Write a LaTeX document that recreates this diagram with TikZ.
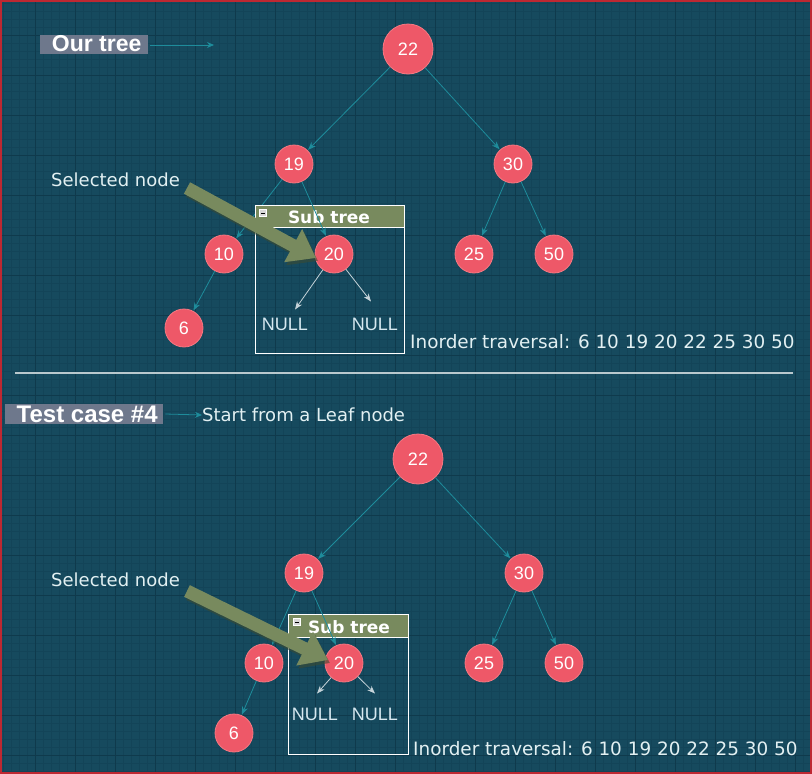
\documentclass[tikz,border=0pt]{standalone}
\usepackage{fontspec}
\setmainfont{DejaVu Sans}
\newfontfamily\arialf{Liberation Sans}
\usetikzlibrary{arrows.meta,calc}
\definecolor{bg}{RGB}{22,74,94}
\definecolor{majorg}{RGB}{15,58,76}
\definecolor{minorg}{RGB}{19,68,88}
\definecolor{nodered}{RGB}{238,88,104}
\definecolor{nodeedge}{RGB}{246,120,130}
\definecolor{teal}{RGB}{30,140,155}
\definecolor{olivegr}{RGB}{120,138,94}
\definecolor{olivedk}{RGB}{60,75,50}
\definecolor{lbl}{RGB}{110,120,140}
\definecolor{txt}{RGB}{226,240,242}
\definecolor{nulltxt}{RGB}{214,232,240}
\definecolor{sep}{RGB}{185,200,205}
\definecolor{borderred}{RGB}{190,40,50}
\tikzset{
  circ/.style={circle, fill=nodered, draw=nodeedge, line width=0.8pt, minimum size=38pt, inner sep=0pt, text=white, font=\arialf\fontsize{18}{20}\selectfont},
  bigcirc/.style={circ, minimum size=50pt},
  edge/.style={draw=teal, line width=0.8pt, -{Stealth[length=8pt,width=6pt]}, shorten >=0.5pt},
  nulledge/.style={draw=nulltxt!80!gray, line width=0.8pt, -{Stealth[length=8pt,width=6pt]}},
  nulltext/.style={text=nulltxt, inner sep=0pt, font=\arialf\fontsize{18}{20}\selectfont},
  plain/.style={text=txt, inner sep=0pt, anchor=west, font=\fontsize{18}{21}\selectfont},
  inorder/.style={plain, font=\fontsize{18.4}{21}\selectfont},
  title/.style={fill=lbl, text=white, inner sep=0pt, anchor=west, font=\arialf\bfseries\fontsize{23}{25}\selectfont},
  bigarrow/.style={draw=olivegr, line width=13pt, -{Triangle[length=26pt,width=36pt]}},
  bigshadow/.style={draw=olivedk, opacity=0.6, line width=13pt, -{Triangle[length=26pt,width=36pt]}},
  subhead/.style={fill=olivegr, draw=white, line width=0.8pt},
  subbox/.style={draw=white, line width=0.8pt},
  subtext/.style={text=white, inner sep=0pt, font=\bfseries\fontsize{17}{19}\selectfont},
  minusicon/.style={fill=gray!30, draw=white, line width=0.4pt, minimum size=7pt, inner sep=0pt},
  link/.style={draw=teal, line width=0.8pt, -{Stealth[length=7pt,width=6pt]}}
}
\begin{document}
\begin{tikzpicture}[x=1pt,y=-1pt]
\useasboundingbox (0,0) rectangle (812,774);
\fill[bg] (0,0) rectangle (812,774);
\foreach \x in {3,11,...,811} \draw[minorg, line width=0.5pt] (\x,0) -- (\x,774);
\foreach \y in {3,11,...,771} \draw[minorg, line width=0.5pt] (0,\y) -- (812,\y);
\foreach \x in {35,75,...,795} \draw[majorg, line width=1pt] (\x,0) -- (\x,774);
\foreach \y in {35,75,...,755} \draw[majorg, line width=1pt] (0,\y) -- (812,\y);
\draw[borderred, line width=2pt] (1,1) rectangle (811,773);

% ================= TOP =================
\node[title, minimum width=108pt, minimum height=19pt, anchor=west] (ourtree) at (40,44) {\hspace{5pt}Our tree\hfill};
\coordinate (ourtreeend) at (214,45);
\draw[link] (ourtree.east) ++(2,1) -- (ourtreeend);

\node[bigcirc] (a22) at (408,49) {22};
\node[circ] (a19) at (294,164) {19};
\node[circ] (a30) at (513,164) {30};
\node[circ] (a10) at (224,254) {10};
\node[circ] (a25) at (474,254) {25};
\node[circ] (a50) at (554,254) {50};
\node[circ] (a6) at (184,328) {6};

\draw[edge] (a22) -- (a19);
\draw[edge] (a22) -- (a30);
\draw[edge] (a19) -- (a10);
\draw[edge] (a10) -- (a6);
\draw[edge] (a30) -- (a25);
\draw[edge] (a30) -- (a50);

% subtree box
\draw[subbox] (255,205) rectangle (404,353);
\draw[subhead] (255,205) rectangle (404,227);
\node[subtext] (asub) at (329,217) {Sub tree};
\node[minusicon] (aminus) at (263,213) {};
\draw[black, line width=0.8pt] (261,213) -- (265,213);

\node[circ] (a20) at (334,254) {20};
\draw[edge] (a19) -- (a20);
\node[nulltext] (anull1) at (285,324) {NULL};
\node[nulltext] (anull2) at (375,324) {NULL};
\draw[nulledge] (a20) -- ($(anull1.north)+(10,-8)$);
\draw[nulledge] (a20) -- ($(anull2.north)+(-4,-16)$);

\node[plain] (asel) at (51,180) {Selected node};
\coordinate (aselS) at (187,188);
\coordinate (aselT) at (316,258);
\draw[bigshadow] ($(aselS)+(2,3)$) -- ($(aselT)+(2,3)$);
\draw[bigarrow] (aselS) -- (aselT);

\node[inorder] (ainorder) at (410,342) {Inorder traversal: 6 10 19 20 22 25 30 50};

% separator
\coordinate (sepL) at (15,373);
\coordinate (sepR) at (793,373);
\draw[sep, line width=2pt] (sepL) -- (sepR);

% ================= BOTTOM =================
\node[title, font=\arialf\bfseries\fontsize{24}{26}\selectfont, minimum width=158pt, minimum height=20pt] (tc) at (5,414) {\hspace{6pt}Test case \#4\hfill};
\node[plain] (start) at (202,415) {Start from a Leaf node};
\draw[link] (tc.east) ++(2,0) -- (start.west);

\node[bigcirc] (b22) at (418,459) {22};
\node[circ] (b19) at (304,573) {19};
\node[circ] (b30) at (524,573) {30};
\node[circ] (b10) at (264,663) {10};
\node[circ] (b25) at (484,663) {25};
\node[circ] (b50) at (564,663) {50};
\node[circ] (b6) at (234,733) {6};

\draw[edge] (b22) -- (b19);
\draw[edge] (b22) -- (b30);
\draw[edge] (b19) -- (b10);
\draw[edge] (b10) -- (b6);
\draw[edge] (b30) -- (b25);
\draw[edge] (b30) -- (b50);

\draw[subbox] (288,614) rectangle (408,754);
\draw[subhead] (288,614) rectangle (408,637);
\node[subtext] (bsub) at (349,627) {Sub tree};
\node[minusicon] (bminus) at (297,622) {};
\draw[black, line width=0.8pt] (295,622) -- (299,622);

\node[circ] (b20) at (344,663) {20};
\draw[edge] (b19) -- (b20);
\node[nulltext] (bnull1) at (315,714) {NULL};
\node[nulltext] (bnull2) at (375,714) {NULL};
\draw[nulledge] (b20) -- ($(bnull1.north)+(2,-14)$);
\draw[nulledge] (b20) -- ($(bnull2.north)+(0,-14)$);

\node[plain] (bsel) at (51,580) {Selected node};
\coordinate (bselS) at (187,591);
\coordinate (bselT) at (328,660);
\draw[bigshadow] ($(bselS)+(2,3)$) -- ($(bselT)+(2,3)$);
\draw[bigarrow] (bselS) -- (bselT);

\node[inorder] (binorder) at (413,749) {Inorder traversal: 6 10 19 20 22 25 30 50};
\end{tikzpicture}
\end{document}
